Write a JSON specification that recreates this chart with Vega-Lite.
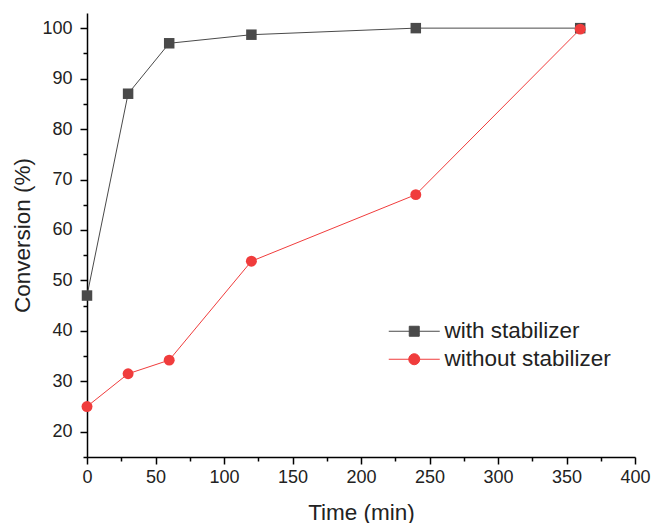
{
  "$schema": "https://vega.github.io/schema/vega-lite/v6.json",
  "autosize": "none",
  "width": 548,
  "height": 444,
  "padding": {"left": 87, "top": 13, "right": 17, "bottom": 66},
  "background": "white",
  "config": {
    "view": {"stroke": null},
    "font": "Liberation Sans",
    "axis": {
      "domainColor": "#000000",
      "domainWidth": 1.5,
      "tickColor": "#000000",
      "tickWidth": 1.5,
      "labelFont": "Liberation Sans",
      "labelFontSize": 18,
      "labelColor": "#222222",
      "titleFont": "Liberation Sans",
      "titleFontSize": 22.5,
      "titleFontWeight": "normal",
      "titleColor": "#222222",
      "grid": false,
      "labelOverlap": false,
      "labelFlush": false,
      "labelBound": false
    }
  },
  "data": {
    "values": [
      {"time": 0, "conversion": 47, "series": "with stabilizer"},
      {"time": 30, "conversion": 87, "series": "with stabilizer"},
      {"time": 60, "conversion": 97, "series": "with stabilizer"},
      {"time": 120, "conversion": 98.7, "series": "with stabilizer"},
      {"time": 240, "conversion": 100, "series": "with stabilizer"},
      {"time": 360, "conversion": 100, "series": "with stabilizer"},
      {"time": 0, "conversion": 25, "series": "without stabilizer"},
      {"time": 30, "conversion": 31.5, "series": "without stabilizer"},
      {"time": 60, "conversion": 34.2, "series": "without stabilizer"},
      {"time": 120, "conversion": 53.8, "series": "without stabilizer"},
      {"time": 240, "conversion": 67, "series": "without stabilizer"},
      {"time": 360, "conversion": 99.8, "series": "without stabilizer"}
    ]
  },
  "encoding": {
    "x": {
      "field": "time",
      "type": "quantitative",
      "scale": {"domain": [0, 400], "nice": false, "zero": false},
      "axis": {
        "title": "Time (min)",
        "values": [0, 25, 50, 75, 100, 125, 150, 175, 200, 225, 250, 275, 300, 325, 350, 375, 400],
        "labelExpr": "datum.value % 50 === 0 ? datum.label : ''",
        "tickSize": {"condition": {"test": "datum.value % 50 === 0", "value": 7}, "value": 4},
        "labelPadding": 4,
        "titlePadding": 15
      }
    },
    "y": {
      "field": "conversion",
      "type": "quantitative",
      "scale": {"domain": [15, 103], "nice": false, "zero": false},
      "axis": {
        "title": "Conversion (%)",
        "values": [15, 20, 25, 30, 35, 40, 45, 50, 55, 60, 65, 70, 75, 80, 85, 90, 95, 100],
        "labelExpr": "datum.value % 10 === 0 ? datum.label : ''",
        "tickSize": {"condition": {"test": "datum.value % 10 === 0", "value": 7}, "value": 4},
        "labelPadding": 8,
        "titlePadding": 7
      }
    },
    "color": {
      "field": "series",
      "type": "nominal",
      "scale": {"domain": ["with stabilizer", "without stabilizer"], "range": ["#4a4a4a", "#f03c3c"]},
      "legend": {
        "orient": "none",
        "legendX": 316,
        "legendY": 307,
        "title": null,
        "padding": 0,
        "symbolSize": 100,
        "symbolStrokeWidth": 1,
        "symbolOpacity": 1,
        "symbolType": {"expr": "datum.value === 'with stabilizer' ? 'M-5.1,0H5.1M-1,-1H1V1H-1Z' : 'M-5.1,0H5.1M-1.1,0A1.1,1.1,0,1,0,1.1,0A1.1,1.1,0,1,0,-1.1,0Z'"},
        "symbolStrokeColor": {"expr": "scale('color', datum.value)"},
        "symbolFillColor": {"expr": "scale('color', datum.value)"},
        "labelFont": "Liberation Sans",
        "labelFontSize": 22.5,
        "labelColor": "#222222",
        "labelLimit": 400,
        "labelOffset": 19,
        "rowPadding": 5
      }
    }
  },
  "layer": [
    {
      "mark": {"type": "line", "strokeWidth": 1}
    },
    {
      "transform": [{"filter": "datum.series === 'with stabilizer'"}],
      "mark": {"type": "point", "filled": true, "opacity": 1, "shape": "square", "size": 110}
    },
    {
      "transform": [{"filter": "datum.series === 'without stabilizer'"}],
      "mark": {"type": "point", "filled": true, "opacity": 1, "shape": "circle", "size": 120}
    }
  ]
}
